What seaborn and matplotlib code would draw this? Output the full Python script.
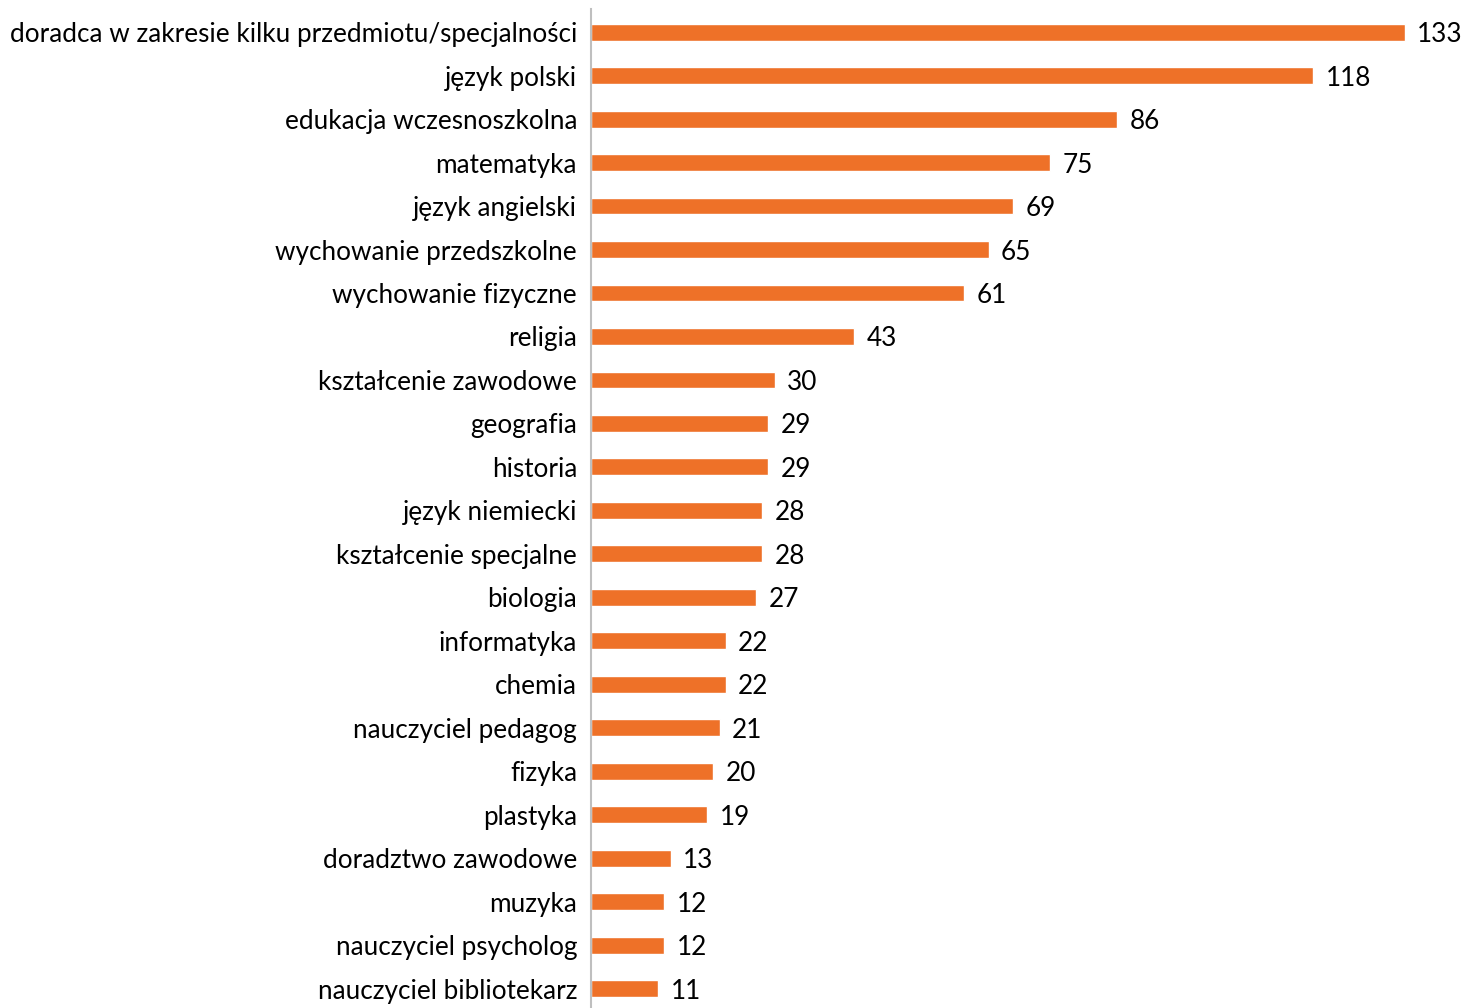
import matplotlib
matplotlib.use("Agg")
import matplotlib.pyplot as plt
import seaborn as sns
import pandas as pd

categories = [
    "doradca w zakresie kilku przedmiotu/specjalności",
    "język polski",
    "edukacja wczesnoszkolna",
    "matematyka",
    "język angielski",
    "wychowanie przedszkolne",
    "wychowanie fizyczne",
    "religia",
    "kształcenie zawodowe",
    "geografia",
    "historia",
    "język niemiecki",
    "kształcenie specjalne",
    "biologia",
    "informatyka",
    "chemia",
    "nauczyciel pedagog",
    "fizyka",
    "plastyka",
    "doradztwo zawodowe",
    "muzyka",
    "nauczyciel psycholog",
    "nauczyciel bibliotekarz",
]
values = [133, 118, 86, 75, 69, 65, 61, 43, 30, 29, 29, 28, 28, 27, 22, 22, 21, 20, 19, 13, 12, 12, 11]

df = pd.DataFrame({"category": categories, "value": values})

sns.set_theme(style="white")
plt.rcParams["font.family"] = ["Lato", "DejaVu Sans"]

W, H = 1464, 1008
fig = plt.figure(figsize=(W / 100, H / 100), dpi=100)
ax = fig.add_axes([591 / W, 0 / H, 1 - 591 / W, (1008 - 9) / H])

sns.barplot(data=df, x="value", y="category", color="#EE7128", width=0.39,
            saturation=1, ax=ax, orient="h")

ax.set_xlim(0, (W - 591) / 6.12)
ax.set_ylim(22.44, -0.53)
ax.set_xlabel("")
ax.set_ylabel("")
ax.set_xticks([])
for s in ["top", "right", "bottom"]:
    ax.spines[s].set_visible(False)
ax.spines["left"].set_color("#BFBFBF")
ax.spines["left"].set_linewidth(1.5)
ax.tick_params(axis="y", length=0, pad=10, labelsize=18.8, labelcolor="#000000")
for lbl in ax.get_yticklabels():
    lbl.set_verticalalignment("center_baseline")

for i, v in enumerate(values):
    ax.text(v + 2.0, i, str(v), va="center_baseline", ha="left", fontsize=18.8, color="#000000")

fig.savefig("out.png", dpi=100)
